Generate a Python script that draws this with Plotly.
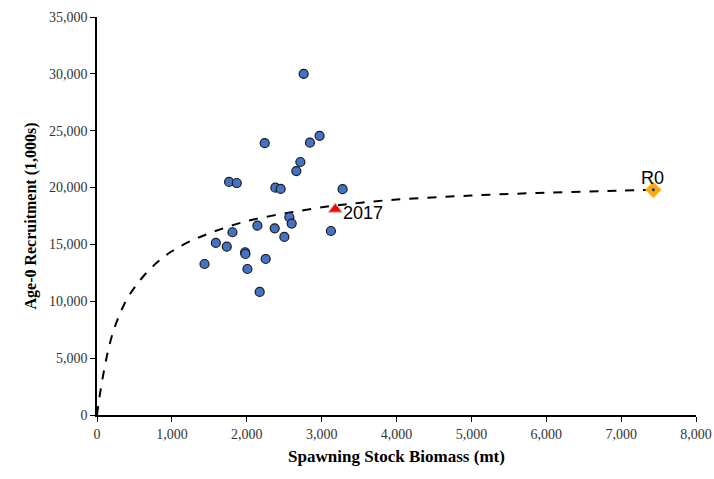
import plotly.graph_objects as go

# Observed stock-recruit pairs (SSB in mt, recruitment in 1,000s)
ssb = [2760, 2240, 2844, 2973, 2716, 2662, 1764, 1867, 2382, 2453, 3280,
       2569, 2600, 2142, 2373, 3124, 1809, 2502, 1587, 1733, 1978, 1982,
       2253, 1436, 2009, 2173]
recruits = [30000, 23900, 23950, 24550, 22250, 21450, 20500, 20400, 19990, 19880, 19860,
            17390, 16830, 16650, 16420, 16180, 16070, 15660, 15130, 14800, 14310, 14160,
            13720, 13280, 12840, 10820]

# 2017 point and R0 point
ssb_2017 = [3182]
rec_2017 = [18100]
ssb_r0 = [7430]
rec_r0 = [19800]

# Fitted curve
curve_ssb = [0, 30, 85, 150, 220, 300, 400, 500, 620, 800, 1000, 1250, 1550,
             2000, 2570, 3100, 3500, 4000, 5000, 6000, 7000, 7430]
curve_rec = [0, 1450, 3600, 5700, 7400, 8800, 10200, 11200, 12200, 13400, 14400, 15300,
             16100, 17050, 17800, 18350, 18650, 18950, 19300, 19550, 19740, 19820]

x_ticks = [0, 1000, 2000, 3000, 4000, 5000, 6000, 7000, 8000]
y_ticks = [0, 5000, 10000, 15000, 20000, 25000, 30000, 35000]

fig = go.Figure()
fig.add_trace(go.Scatter(x=curve_ssb, y=curve_rec, mode="lines",
                         line=dict(color="black", width=2, dash="dash", shape="spline",
                                   smoothing=1),
                         showlegend=False, hoverinfo="skip"))
fig.add_trace(go.Scatter(x=ssb, y=recruits, mode="markers",
                         marker=dict(symbol="circle", size=9, color="#4472C4",
                                     line=dict(color="#1a1a1a", width=1.2)),
                         showlegend=False))
fig.add_trace(go.Scatter(x=ssb_2017, y=rec_2017, mode="markers",
                         marker=dict(symbol="triangle-up", size=12, color="red",
                                     line=dict(color="#bbbbbb", width=1)),
                         showlegend=False))
fig.add_trace(go.Scatter(x=ssb_r0, y=rec_r0, mode="markers",
                         marker=dict(symbol="diamond", size=12, color="#F7A823",
                                     line=dict(color="#FFC000", width=1)),
                         showlegend=False))
fig.add_trace(go.Scatter(x=ssb_r0, y=rec_r0, mode="markers",
                         marker=dict(symbol="circle", size=3, color="#333333"),
                         showlegend=False, hoverinfo="skip"))

label_font = dict(family="Liberation Sans, Arial", size=18, color="black")
fig.add_annotation(x=ssb_2017[0], y=rec_2017[0], text="2017", showarrow=False,
                   xanchor="left", yanchor="middle", xshift=6, yshift=-4, font=label_font)
fig.add_annotation(x=ssb_r0[0], y=rec_r0[0], text="R0", showarrow=False,
                   xanchor="center", yanchor="middle", xshift=-1, yshift=12, font=label_font)

axis_font = dict(family="Liberation Serif, Times New Roman", size=14, color="#333333")

fig.update_layout(
    width=714, height=479,
    margin=dict(l=97, r=18, t=17, b=64, autoexpand=False),
    paper_bgcolor="white", plot_bgcolor="white",
    xaxis=dict(range=[0, 8000], tickvals=x_ticks, tickformat=",d",
               showgrid=False, zeroline=False, showline=True, linecolor="black",
               linewidth=1.5, ticks="outside", ticklen=5, tickcolor="black",
               tickfont=axis_font, automargin=False, ticklabeloverflow="allow",
               title=dict(text="<b>Spawning Stock Biomass (mt)</b>",
                          font=dict(family="Liberation Serif, Times New Roman", size=17, color="black"),
                          standoff=10)),
    yaxis=dict(range=[0, 35000], tickvals=y_ticks, tickformat=",d",
               showgrid=False, zeroline=False, showline=True, linecolor="black",
               linewidth=1.5, ticks="outside", ticklen=5, tickcolor="black",
               tickfont=axis_font, automargin=False,
               title=dict(text="<b>Age-0 Recruitment (1,000s)</b>",
                          font=dict(family="Liberation Serif, Times New Roman", size=16, color="black"),
                          standoff=8)),
)

fig.write_html("out.html", config={"displayModeBar": False},
               post_script="document.body.style.margin='0px';document.body.style.overflow='hidden';")
